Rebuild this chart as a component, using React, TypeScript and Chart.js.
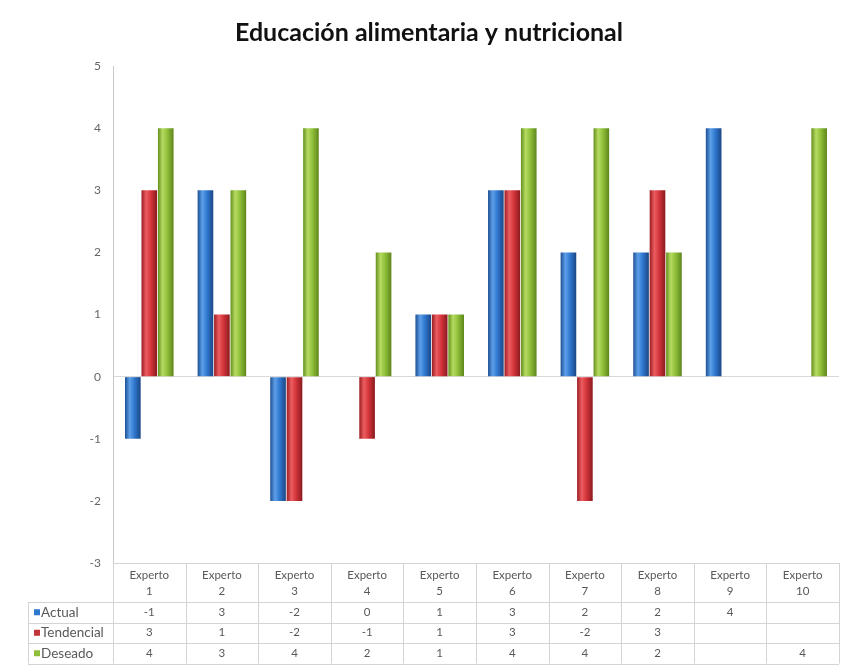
import React, { useEffect, useRef } from "react";
import { Chart, registerables } from "chart.js";

Chart.register(...registerables);

const categories = ["Experto 1", "Experto 2", "Experto 3", "Experto 4", "Experto 5", "Experto 6", "Experto 7", "Experto 8", "Experto 9", "Experto 10"];
const seriesNames = ["Actual", "Tendencial", "Deseado"];
const actual: (number | null)[] = [-1, 3, -2, 0, 1, 3, 2, 2, 4, null];
const tendencial: (number | null)[] = [3, 1, -2, -1, 1, 3, -2, 3, null, null];
const deseado: (number | null)[] = [4, 3, 4, 2, 1, 4, 4, 2, null, 4];
const yMin = -3;
const yMax = 5;
const titleText = "Educación alimentaria y nutricional";

const palettes = [
  ["#1c4f94", "#5e9fe8", "#2f78d0", "#1a4684"],
  ["#9a1d22", "#ec5d60", "#d3343a", "#8a1a1e"],
  ["#64901c", "#b6db62", "#8fbf3a", "#5e861b"],
];
const legendColors = ["#2f78d0", "#c0343a", "#8fbf3a"];

const CAT_PCT = 0.68;
const BAR_PCT = 0.95;
const FONT = "Lato, 'Liberation Sans', sans-serif";

function barGradient(dsIndex: number) {
  const p = palettes[dsIndex];
  return (ctx: any) => {
    if (ctx.type !== "data") return p[2];
    const chart = ctx.chart;
    const xs = chart.scales && chart.scales.x;
    if (!xs || !chart.chartArea || !isFinite(xs.width) || xs.width <= 0) return p[2];
    const n = categories.length;
    const catW = xs.width / n;
    const center = xs.getPixelForValue(ctx.dataIndex);
    const slot = (catW * CAT_PCT) / 3;
    const left = center - (catW * CAT_PCT) / 2 + slot * ctx.datasetIndex + (slot * (1 - BAR_PCT)) / 2;
    const w = slot * BAR_PCT;
    if (!isFinite(left) || !isFinite(w)) return p[2];
    const g = chart.ctx.createLinearGradient(left, 0, left + w, 0);
    g.addColorStop(0, p[0]);
    g.addColorStop(0.3, p[1]);
    g.addColorStop(0.6, p[2]);
    g.addColorStop(1, p[3]);
    return g;
  };
}

const tablePlugin = {
  id: "dataTable",
  afterDraw(chart: any) {
    const ctx = chart.ctx;
    const xs = chart.scales.x;
    const area = chart.chartArea;
    const n = categories.length;
    const catW = xs.width / n;
    const top = area.bottom;
    const headerBottom = top + 39;
    const rowH = 20.5;
    const tableBottom = headerBottom + rowH * 3;
    const labelLeft = 28;
    const lineColor = "#d4d4d4";
    ctx.save();
    ctx.strokeStyle = lineColor;
    ctx.lineWidth = 1;
    const hLine = (y: number, x1: number, x2: number) => {
      ctx.beginPath();
      ctx.moveTo(x1, Math.round(y) + 0.5);
      ctx.lineTo(x2, Math.round(y) + 0.5);
      ctx.stroke();
    };
    const vLine = (x: number, y1: number, y2: number) => {
      ctx.beginPath();
      ctx.moveTo(Math.round(x) + 0.5, y1);
      ctx.lineTo(Math.round(x) + 0.5, y2);
      ctx.stroke();
    };
    hLine(top, area.left, area.right);
    for (let r = 0; r <= 3; r++) hLine(headerBottom + r * rowH, labelLeft, area.right);
    vLine(labelLeft, headerBottom, tableBottom);
    vLine(area.left, top, tableBottom);
    for (let i = 0; i < n; i++) {
      const c = xs.getPixelForValue(i);
      vLine(c + catW / 2, top, tableBottom);
    }
    ctx.fillStyle = "#595959";
    ctx.font = "11.5px " + FONT;
    ctx.textAlign = "center";
    ctx.textBaseline = "middle";
    for (let i = 0; i < n; i++) {
      const c = xs.getPixelForValue(i);
      const parts = categories[i].split(" ");
      ctx.fillText(parts[0], c, top + 12);
      ctx.fillText(parts[1], c, top + 28);
    }
    const series = [actual, tendencial, deseado];
    for (let s = 0; s < 3; s++) {
      const yc = headerBottom + rowH * s + rowH / 2;
      ctx.fillStyle = legendColors[s];
      ctx.fillRect(labelLeft + 6, yc - 3, 6, 6);
      ctx.fillStyle = "#595959";
      ctx.textAlign = "left";
      ctx.font = "13.5px " + FONT;
      ctx.fillText(seriesNames[s], labelLeft + 13, yc);
      ctx.textAlign = "center";
      ctx.font = "11.5px " + FONT;
      for (let i = 0; i < n; i++) {
        const v = series[s][i];
        if (v === null || v === undefined) continue;
        ctx.fillText(String(v), xs.getPixelForValue(i), yc);
      }
    }
    ctx.restore();
  },
};

export default function App() {
  const ref = useRef<HTMLCanvasElement | null>(null);
  useEffect(() => {
    if (!ref.current) return;
    const data = [actual, tendencial, deseado];
    const chart = new Chart(ref.current, {
      type: "bar",
      data: {
        labels: categories,
        datasets: seriesNames.map((name, i) => ({
          label: name,
          data: data[i],
          backgroundColor: barGradient(i),
          borderWidth: 0,
          categoryPercentage: CAT_PCT,
          barPercentage: BAR_PCT,
        })),
      },
      options: {
        animation: false,
        responsive: true,
        maintainAspectRatio: false,
        layout: { padding: { left: 19, right: 5, top: 0, bottom: 106 } },
        plugins: {
          legend: { display: false },
          tooltip: { enabled: false },
          title: {
            display: true,
            text: titleText,
            color: "#111",
            font: { family: FONT, size: 25, weight: "bold" },
            padding: { top: 18, bottom: 18 },
          },
        },
        scales: {
          x: {
            type: "category",
            display: false,
            offset: true,
          },
          y: {
            min: yMin,
            max: yMax,
            afterFit: (scale: any) => {
              scale.width = 94;
            },
            ticks: {
              stepSize: 1,
              color: "#666",
              padding: 12,
              font: { family: FONT, size: 12 },
            },
            grid: {
              drawTicks: false,
              color: (c: any) => (c.tick && c.tick.value === 0 ? "#d9d9d9" : "rgba(0,0,0,0)"),
            },
            border: { display: true, color: "#c8c8c8" },
          },
        },
      },
      plugins: [tablePlugin],
    });
    return () => chart.destroy();
  }, []);
  return (
    <div style={{ position: "absolute", left: 0, top: 0, width: 844, height: 669, background: "#fff" }}>
      <canvas ref={ref} />
    </div>
  );
}
